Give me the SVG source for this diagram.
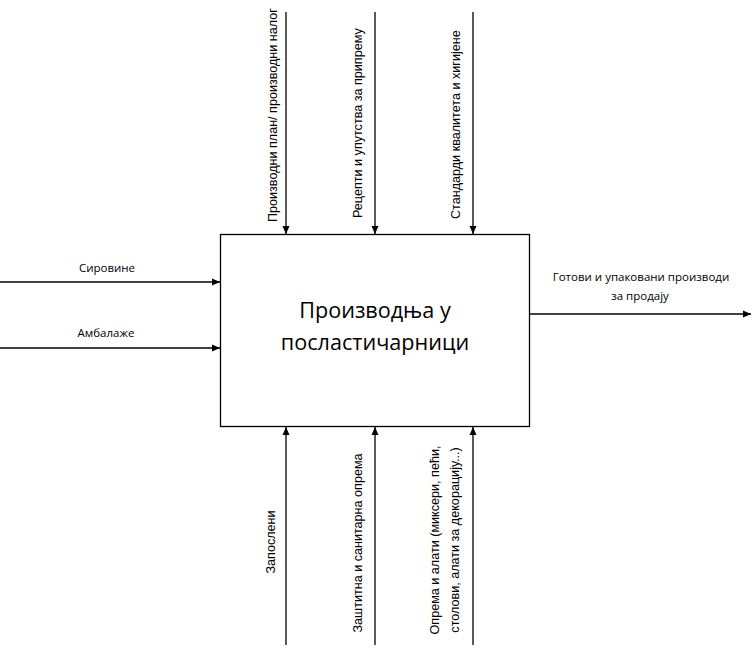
<svg xmlns="http://www.w3.org/2000/svg" width="752" height="656" viewBox="0 0 752 656">
<style>
.ln{stroke:#000;stroke-width:1.3;fill:none;marker-end:url(#ah)}
.v{font-family:"Liberation Sans",Arial,sans-serif;font-size:12.6px;fill:#000}
.h{font-family:"Open Sans","Liberation Sans",sans-serif;font-size:11.5px;fill:#000;text-anchor:middle}
.m{font-family:"Open Sans","Liberation Sans",sans-serif;font-size:21.6px;fill:#000;text-anchor:middle}
</style>
<defs>
<marker id="ah" viewBox="0 0 8 8" refX="8" refY="4" markerWidth="8" markerHeight="8" markerUnits="userSpaceOnUse" orient="auto">
<path d="M0,0.5 L8,4 L0,7.5 Z" fill="#000"/>
</marker>
</defs>
<rect width="752" height="656" fill="#fff"/>
<g id="node-process">
<rect x="220.5" y="234.5" width="309" height="192" fill="#fff" stroke="#000" stroke-width="1.3"/>
<text class="m" x="375" y="318">Производња у</text>
<text class="m" x="375" y="350">посластичарници</text>
</g>
<g id="connectors">
<line class="ln" x1="0" y1="282" x2="220" y2="282"/>
<line class="ln" x1="0" y1="348" x2="220" y2="348"/>
<line class="ln" x1="530" y1="314" x2="751" y2="314"/>
<line class="ln" x1="286" y1="12" x2="286" y2="234"/>
<line class="ln" x1="375" y1="12" x2="375" y2="234"/>
<line class="ln" x1="473" y1="12" x2="473" y2="234"/>
<line class="ln" x1="286" y1="645" x2="286" y2="427"/>
<line class="ln" x1="375" y1="645" x2="375" y2="427"/>
<line class="ln" x1="473" y1="645" x2="473" y2="427"/>
</g>
<g id="labels">
<text class="h" x="107" y="272">Сировине</text>
<text class="h" x="106" y="337">Амбалаже</text>
<text class="h" x="641" y="281">Готови и упаковани производи</text>
<text class="h" x="640" y="300">за продају</text>
<text class="v" transform="translate(277,222) rotate(-90)">Производни план/ производни налог</text>
<text class="v" transform="translate(362,218) rotate(-90)">Рецепти и упутства за припрему</text>
<text class="v" transform="translate(460,219) rotate(-90)">Стандарди квалитета и хигијене</text>
<text class="v" text-anchor="middle" transform="translate(275,542) rotate(-90)">Запослени</text>
<text class="v" text-anchor="middle" transform="translate(362,543) rotate(-90)">Заштитна и санитарна опрема</text>
<text class="v" text-anchor="middle" transform="translate(439,540) rotate(-90)">Опрема и алати (миксери, пећи,</text>
<text class="v" text-anchor="middle" transform="translate(459,540) rotate(-90)">столови, алати за декорацију...)</text>
</g>
</svg>
